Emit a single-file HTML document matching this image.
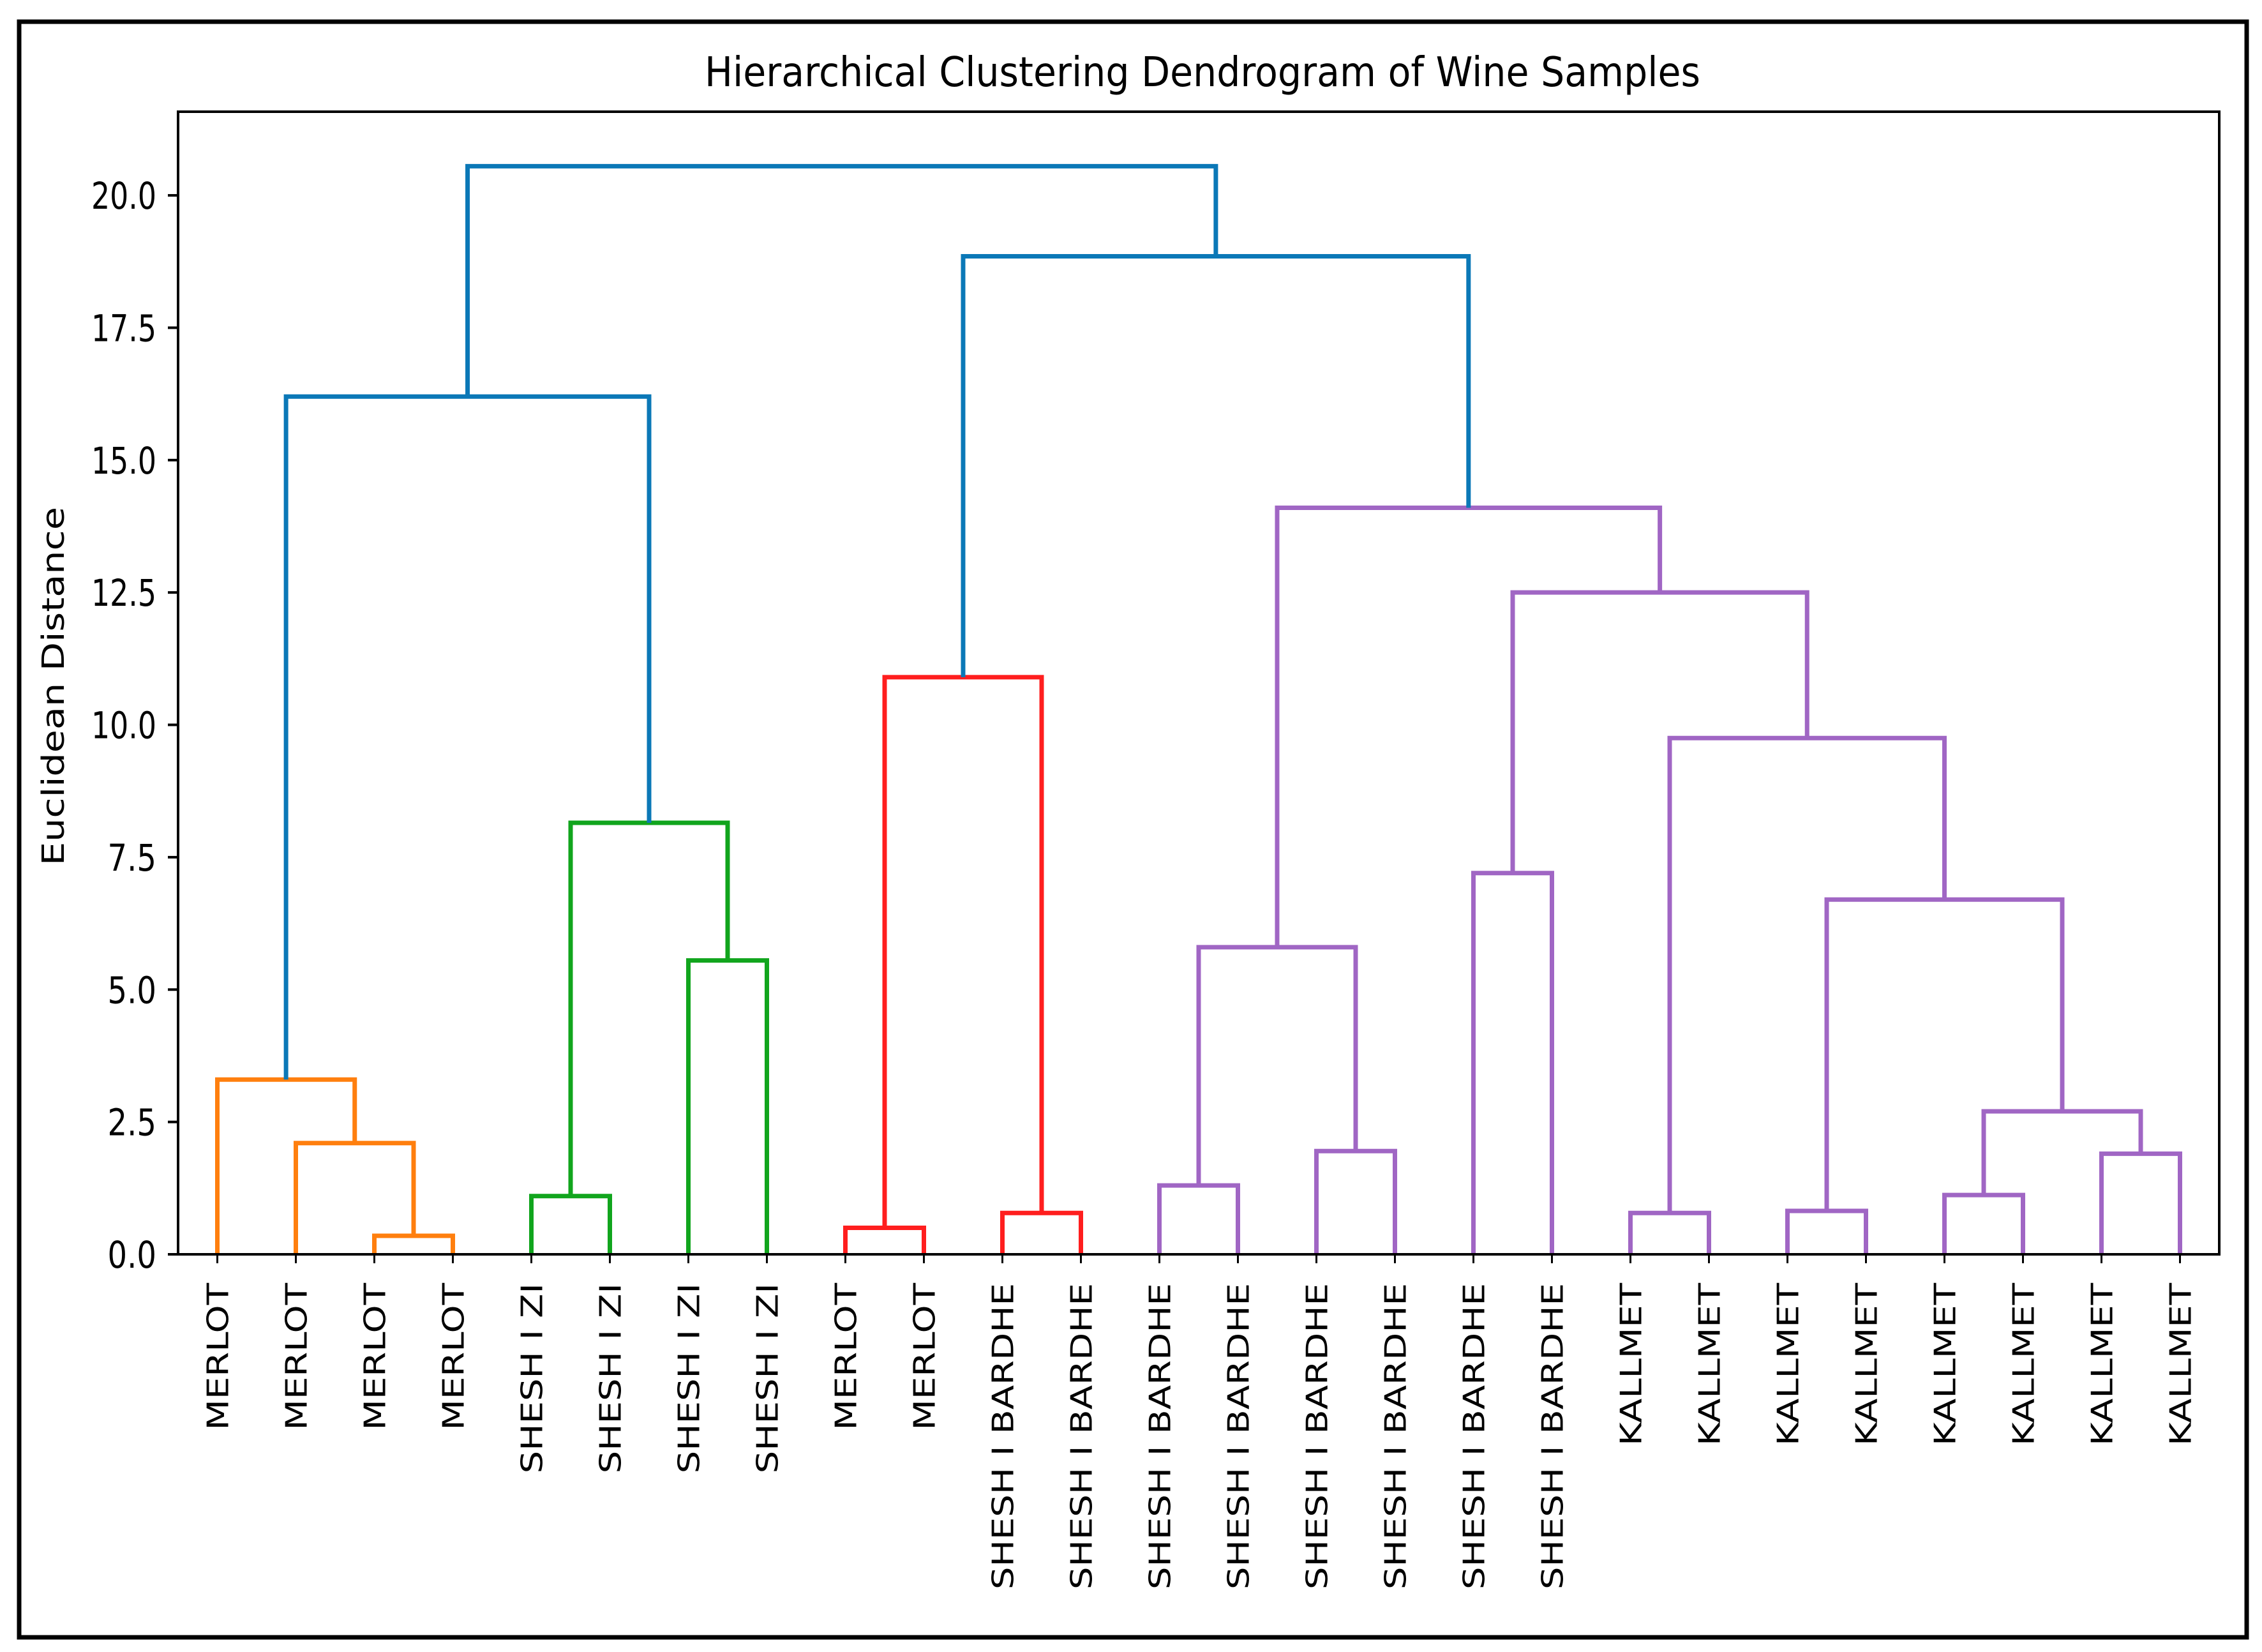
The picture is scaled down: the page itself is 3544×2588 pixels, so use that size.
<!DOCTYPE html>
<html><head><meta charset="utf-8"><style>
html,body{margin:0;padding:0;background:#fff}
svg{display:block}
text{font-family:"DejaVu Sans","Liberation Sans",sans-serif;fill:#000}
</style></head><body>
<svg id="chart" width="3544" height="2588" viewBox="0 0 3544 2588" xmlns="http://www.w3.org/2000/svg">
<rect x="30" y="34" width="3490" height="2531" fill="none" stroke="#000" stroke-width="7"/>
<text x="1884" y="135" font-size="64" text-anchor="middle" textLength="1560" lengthAdjust="spacingAndGlyphs">Hierarchical Clustering Dendrogram of Wine Samples</text>
<text transform="translate(100,1075) rotate(-90)" font-size="48" text-anchor="middle" textLength="562" lengthAdjust="spacingAndGlyphs">Euclidean Distance</text>
<g id="links"></g>
<g id="yticks"></g>
<g id="xticks"></g>
<rect x="279" y="175" width="3198" height="1790" fill="none" stroke="#000" stroke-width="4"/>
</svg>
<script>
const leafLabels = ["MERLOT","MERLOT","MERLOT","MERLOT","SHESH I ZI","SHESH I ZI","SHESH I ZI","SHESH I ZI","MERLOT","MERLOT","SHESH I BARDHE","SHESH I BARDHE","SHESH I BARDHE","SHESH I BARDHE","SHESH I BARDHE","SHESH I BARDHE","SHESH I BARDHE","SHESH I BARDHE","KALLMET","KALLMET","KALLMET","KALLMET","KALLMET","KALLMET","KALLMET","KALLMET"];
// merges: children are leaf index (0..25) or 26+merge index
const mergeLeft  = [2, 1, 0, 4, 6, 29, 8, 10, 12, 14, 34, 16, 18, 20, 22, 24, 40, 39, 38, 37, 36, 32, 47, 28, 49];
const mergeRight = [3, 26, 27, 5, 7, 30, 9, 11, 13, 15, 35, 17, 19, 21, 23, 25, 41, 42, 43, 44, 45, 33, 46, 31, 48];
const mergeHeight= [0.35, 2.1, 3.3, 1.1, 5.55, 8.15, 0.5, 0.78, 1.3, 1.95, 5.8, 7.2, 0.78, 0.82, 1.12, 1.9, 2.7, 6.7, 9.75, 12.5, 14.1, 10.9, 18.85, 16.2, 20.55];
const mergeColor = ["C1","C1","C1","C2","C2","C2","C3","C3","C4","C4","C4","C4","C4","C4","C4","C4","C4","C4","C4","C4","C4","C3","C0","C0","C0"];
const yTicks = [0, 2.5, 5, 7.5, 10, 12.5, 15, 17.5, 20];
const yTickLabels = ["0.0","2.5","5.0","7.5","10.0","12.5","15.0","17.5","20.0"];

const palette = {C0:"#0b78b7",C1:"#ff7f0e",C2:"#11a51d",C3:"#ff1e1e",C4:"#a066c4"};
const X0=279, X1=3477, Y0=1965, YT=175, yMax=21.58, xMax=leafLabels.length*10;
const sx = v => X0 + v/xMax*(X1-X0);
const sy = v => Y0 - v/yMax*(Y0-YT);
const NS="http://www.w3.org/2000/svg";
const n = leafLabels.length;
function pos(i){ if(i<n) return {x:5+10*i,h:0}; const m=i-n; return {x:(pos(mergeLeft[m]).x+pos(mergeRight[m]).x)/2,h:mergeHeight[m]}; }
const links=document.getElementById('links');
for(let m=0;m<mergeLeft.length;m++){
  const a=pos(mergeLeft[m]), b=pos(mergeRight[m]), h=mergeHeight[m];
  const p=document.createElementNS(NS,'path');
  p.setAttribute('d',`M${sx(a.x)},${sy(a.h)}V${sy(h)}H${sx(b.x)}V${sy(b.h)}`);
  p.setAttribute('fill','none');
  p.setAttribute('stroke',palette[mergeColor[m]]);
  p.setAttribute('stroke-width','7');
  
  
  links.appendChild(p);
}
const yt=document.getElementById('yticks');
yTicks.forEach((v,i)=>{
  const l=document.createElementNS(NS,'line');
  l.setAttribute('x1',X0-16);l.setAttribute('x2',X0);l.setAttribute('y1',sy(v));l.setAttribute('y2',sy(v));
  l.setAttribute('stroke','#000');l.setAttribute('stroke-width','4');
  
  
  yt.appendChild(l);
  const t=document.createElementNS(NS,'text');
  t.setAttribute('x',X0-34);t.setAttribute('y',sy(v)+21);t.setAttribute('text-anchor','end');t.setAttribute('font-size','58');
  t.setAttribute('textLength',yTickLabels[i].length*25.5);t.setAttribute('lengthAdjust','spacingAndGlyphs');
  t.textContent=yTickLabels[i];
  
  
  yt.appendChild(t);
});
const xt=document.getElementById('xticks');
leafLabels.forEach((s,i)=>{
  const x=sx(5+10*i);
  const l=document.createElementNS(NS,'line');
  l.setAttribute('x1',x);l.setAttribute('x2',x);l.setAttribute('y1',Y0);l.setAttribute('y2',Y0+14);
  l.setAttribute('stroke','#000');l.setAttribute('stroke-width','3');
  
  
  xt.appendChild(l);
  const t=document.createElementNS(NS,'text');
  t.setAttribute('transform',`translate(${x+17},2010) rotate(-90)`);
  t.setAttribute('text-anchor','end');t.setAttribute('font-size','46');
  t.textContent=s;
  
  
  xt.appendChild(t);
  const w=t.getComputedTextLength();
  if(w>0){t.setAttribute('textLength',w*1.22);t.setAttribute('lengthAdjust','spacingAndGlyphs');}
});
</script>
</body></html>
